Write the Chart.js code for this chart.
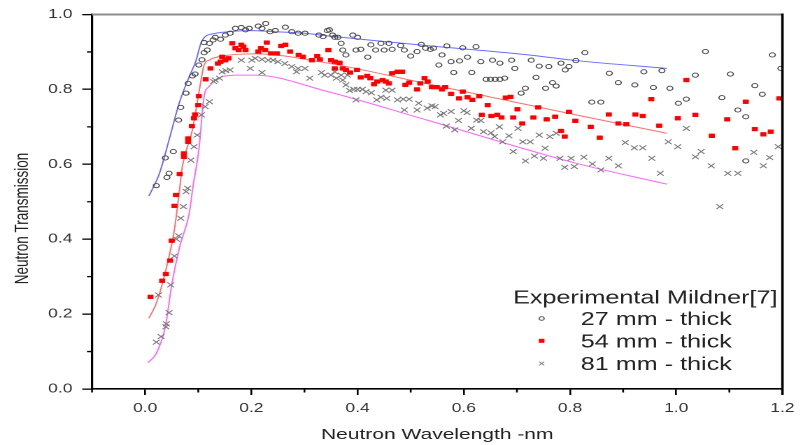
<!DOCTYPE html>
<html>
<head>
<meta charset="utf-8">
<title>Neutron Transmission</title>
<script src="https://cdn.jsdelivr.net/npm/chart.js@4.4.1/dist/chart.umd.min.js"></script>
<style>
  html, body { margin: 0; padding: 0; background: #fff; overflow: hidden; }
  /* the figure is laid out on a 574px-wide canvas and widened to 803px */
  #wrap { width: 574px; height: 445px; transform: scaleX(1.39895); transform-origin: 0 0; }
</style>
</head>
<body>
<div id="wrap"><canvas id="chart" width="574" height="445"></canvas></div>
<script>
// ---- measured transmission, 27 mm sample ----
const wl27 = [0.021,0.038,0.041,0.045,0.053,0.063,0.067,0.077,0.081,0.089,0.094,0.101,0.107,0.111,0.111,0.117,0.121,0.128,0.132,0.142,
  0.151,0.160,0.170,0.181,0.189,0.196,0.213,0.220,0.227,0.235,0.245,0.264,0.276,0.288,0.301,0.327,0.335,0.343,0.347,0.353,
  0.357,0.363,0.369,0.372,0.378,0.391,0.397,0.400,0.406,0.419,0.425,0.434,0.444,0.450,0.459,0.465,0.481,0.488,0.500,0.512,
  0.520,0.528,0.537,0.543,0.553,0.559,0.568,0.576,0.581,0.592,0.598,0.607,0.615,0.623,0.632,0.642,0.650,0.654,0.659,0.668,
  0.668,0.677,0.690,0.696,0.708,0.716,0.727,0.736,0.742,0.754,0.760,0.767,0.774,0.783,0.791,0.798,0.811,0.828,0.841,0.858,
  0.874,0.891,0.922,0.939,0.957,0.973,0.988,1.004,1.019,1.036,1.055,1.086,1.102,1.116,1.131,1.131,1.148,1.162,1.181,1.197];
const tr27 = [0.543,0.617,0.565,0.576,0.634,0.718,0.752,0.790,0.816,0.836,0.841,0.865,0.879,0.898,0.925,0.905,0.923,0.932,0.939,0.934,
  0.945,0.950,0.963,0.965,0.959,0.963,0.969,0.963,0.976,0.954,0.957,0.966,0.954,0.950,0.950,0.945,0.941,0.957,0.959,0.945,
  0.939,0.939,0.923,0.905,0.892,0.945,0.905,0.939,0.907,0.886,0.919,0.905,0.923,0.905,0.923,0.907,0.917,0.905,0.889,0.901,
  0.920,0.910,0.907,0.910,0.865,0.892,0.916,0.874,0.845,0.876,0.911,0.886,0.845,0.914,0.874,0.827,0.827,0.878,0.827,0.827,
  0.870,0.830,0.878,0.856,0.790,0.803,0.878,0.832,0.862,0.803,0.861,0.818,0.809,0.870,0.852,0.861,0.877,0.898,0.766,0.766,
  0.843,0.818,0.812,0.847,0.805,0.850,0.803,0.763,0.774,0.838,0.901,0.778,0.841,0.745,0.727,0.609,0.810,0.787,0.892,0.856];

// ---- measured transmission, 54 mm sample ----
const wl54 = [0.010,0.032,0.039,0.047,0.050,0.055,0.058,0.065,0.073,0.073,0.081,0.081,0.088,0.092,0.094,0.100,0.101,0.114,0.123,0.137,
  0.142,0.145,0.151,0.157,0.164,0.170,0.176,0.181,0.185,0.189,0.213,0.218,0.226,0.229,0.237,0.248,0.256,0.264,0.273,0.289,
  0.297,0.314,0.324,0.329,0.345,0.350,0.357,0.357,0.366,0.372,0.378,0.386,0.399,0.406,0.418,0.424,0.431,0.437,0.447,0.453,
  0.459,0.465,0.475,0.484,0.490,0.497,0.512,0.518,0.526,0.532,0.540,0.549,0.559,0.565,0.576,0.591,0.598,0.607,0.616,0.629,
  0.634,0.645,0.652,0.663,0.671,0.679,0.688,0.693,0.701,0.710,0.731,0.740,0.756,0.772,0.783,0.790,0.798,0.810,0.839,0.856,
  0.873,0.891,0.906,0.923,0.937,0.953,0.968,1.003,1.019,1.036,1.067,1.096,1.111,1.131,1.148,1.164,1.178,1.194];
const tr54 = [0.246,0.289,0.307,0.343,0.396,0.489,0.518,0.574,0.620,0.629,0.660,0.669,0.702,0.723,0.733,0.758,0.782,0.827,0.856,0.869,
  0.874,0.887,0.878,0.883,0.923,0.910,0.905,0.919,0.914,0.905,0.901,0.910,0.905,0.925,0.896,0.896,0.916,0.919,0.901,0.892,
  0.887,0.878,0.889,0.880,0.905,0.878,0.874,0.856,0.871,0.856,0.852,0.845,0.852,0.832,0.836,0.830,0.814,0.821,0.825,0.821,
  0.816,0.843,0.847,0.847,0.812,0.818,0.800,0.816,0.830,0.821,0.806,0.806,0.800,0.806,0.788,0.776,0.794,0.779,0.772,0.782,
  0.732,0.758,0.729,0.732,0.725,0.778,0.780,0.725,0.747,0.709,0.725,0.752,0.720,0.727,0.689,0.674,0.740,0.716,0.700,0.671,
  0.733,0.709,0.707,0.733,0.729,0.774,0.703,0.723,0.825,0.732,0.676,0.720,0.643,0.767,0.694,0.680,0.687,0.776];

// ---- measured transmission, 81 mm sample ----
const wl81 = [0.021,0.025,0.030,0.039,0.040,0.045,0.048,0.055,0.059,0.063,0.067,0.072,0.077,0.080,0.086,0.092,0.098,0.106,0.113,0.121,
  0.129,0.132,0.140,0.145,0.152,0.160,0.181,0.198,0.201,0.207,0.220,0.220,0.232,0.241,0.250,0.263,0.276,0.285,0.288,0.301,
  0.310,0.332,0.338,0.350,0.357,0.360,0.369,0.372,0.378,0.381,0.385,0.393,0.397,0.400,0.409,0.416,0.426,0.436,0.444,0.453,
  0.455,0.465,0.475,0.486,0.488,0.497,0.512,0.515,0.531,0.540,0.546,0.556,0.562,0.567,0.576,0.583,0.590,0.600,0.606,0.614,
  0.624,0.632,0.637,0.651,0.658,0.667,0.673,0.685,0.693,0.702,0.711,0.716,0.725,0.733,0.742,0.750,0.753,0.762,0.774,0.781,
  0.790,0.802,0.808,0.826,0.842,0.858,0.873,0.891,0.904,0.921,0.937,0.954,0.970,0.985,1.003,1.019,1.036,1.047,1.066,1.082,
  1.097,1.116,1.146,1.164,1.176,1.192];
const tr81 = [0.125,0.251,0.140,0.166,0.174,0.204,0.278,0.355,0.400,0.409,0.456,0.487,0.527,0.536,0.611,0.647,0.678,0.732,0.754,0.767,
  0.821,0.825,0.830,0.847,0.850,0.852,0.878,0.856,0.878,0.883,0.880,0.845,0.878,0.878,0.874,0.869,0.861,0.847,0.856,0.856,
  0.830,0.845,0.838,0.838,0.847,0.830,0.838,0.825,0.812,0.838,0.797,0.800,0.772,0.800,0.800,0.794,0.791,0.772,0.779,0.798,
  0.776,0.798,0.772,0.774,0.745,0.774,0.745,0.763,0.750,0.756,0.754,0.732,0.736,0.702,0.741,0.692,0.717,0.743,0.738,0.696,
  0.718,0.717,0.687,0.684,0.674,0.700,0.660,0.676,0.634,0.696,0.660,0.609,0.660,0.622,0.678,0.616,0.643,0.674,0.683,0.616,
  0.592,0.616,0.594,0.619,0.601,0.585,0.616,0.596,0.658,0.644,0.644,0.616,0.576,0.660,0.647,0.696,0.620,0.634,0.596,0.487,
  0.576,0.576,0.632,0.596,0.618,0.647];

// ---- calculated transmission curves ----
const calcWl27 = [0.007,0.027,0.045,0.064,0.083,0.095,0.105,0.113,0.126,0.157,0.195,0.245,0.301,0.344,0.531,0.717,0.811,0.982];
const calcTr27 = [0.515,0.576,0.665,0.763,0.834,0.874,0.923,0.941,0.948,0.954,0.957,0.954,0.950,0.943,0.917,0.893,0.877,0.856];
const calcWl54 = [0.007,0.021,0.039,0.055,0.064,0.070,0.089,0.101,0.111,0.120,0.145,0.207,0.344,0.531,0.811,0.982];
const calcTr54 = [0.189,0.229,0.318,0.425,0.523,0.594,0.692,0.790,0.865,0.878,0.889,0.895,0.870,0.815,0.732,0.683];
const calcWl81 = [0.005,0.021,0.038,0.050,0.065,0.083,0.090,0.101,0.111,0.120,0.145,0.176,0.207,0.344,0.531,0.811,0.982];
const calcTr81 = [0.070,0.095,0.166,0.278,0.380,0.469,0.540,0.638,0.781,0.807,0.834,0.838,0.838,0.794,0.718,0.603,0.547];

// ---- axis ticks ----
const xTickValues = [0.0, 0.2, 0.4, 0.6, 0.8, 1.0, 1.2];
const xMinorValues = [-0.1, 0.1, 0.3, 0.5, 0.7, 0.9, 1.1];
const yTickValues = [0.0, 0.2, 0.4, 0.6, 0.8, 1.0];
const yMinorValues = [0.1, 0.3, 0.5, 0.7, 0.9];

const legendTitle = 'Experimental Mildner[7]';
const seriesNames = ['27 mm - thick', '54 mm - thick', '81 mm - thick'];

const FONT = "'Liberation Sans', Arial, Helvetica, sans-serif";
const pts = (xs, ys) => xs.map((x, i) => ({ x: x, y: ys[i] }));

// frame: grey top edge and heavy right edge
const framePlugin = {
  id: 'frame',
  afterDraw(chart) {
    const { ctx, chartArea: a } = chart;
    ctx.save();
    ctx.strokeStyle = '#8c8c8c';
    ctx.lineWidth = 2;
    ctx.beginPath();
    ctx.moveTo(a.left, a.top);
    ctx.lineTo(a.right, a.top);
    ctx.stroke();
    ctx.strokeStyle = '#000';
    ctx.lineWidth = 1.8;
    ctx.beginPath();
    ctx.moveTo(a.right, a.top - 1);
    ctx.lineTo(a.right, a.bottom + 6);
    ctx.stroke();
    ctx.restore();
  }
};

// short minor tick marks between the labelled ones
const minorTickPlugin = {
  id: 'minorTicks',
  afterDraw(chart) {
    const { ctx, chartArea: a, scales } = chart;
    ctx.save();
    ctx.strokeStyle = '#000';
    ctx.lineWidth = 1.3;
    ctx.beginPath();
    xMinorValues.forEach(v => {
      const px = scales.x.getPixelForValue(v);
      ctx.moveTo(px, a.bottom);
      ctx.lineTo(px, a.bottom + 3.5);
    });
    yMinorValues.forEach(v => {
      const py = scales.y.getPixelForValue(v);
      ctx.moveTo(a.left, py);
      ctx.lineTo(a.left - 3.6, py);
    });
    ctx.stroke();
    ctx.restore();
  }
};

// vertical axis title
const yTitlePlugin = {
  id: 'yTitle',
  afterDraw(chart) {
    const { ctx } = chart;
    ctx.save();
    ctx.translate(16.4, 218.5);
    ctx.rotate(-Math.PI / 2);
    ctx.font = '13.5px ' + FONT;
    ctx.fillStyle = '#222';
    ctx.textAlign = 'center';
    ctx.textBaseline = 'middle';
    ctx.fillText('Neutron Transmission', 0, 0);
    ctx.restore();
  }
};

// legend block inside the plot, lower right
const legendPlugin = {
  id: 'legendBox',
  afterDraw(chart) {
    const { ctx } = chart;
    ctx.save();
    ctx.font = '18px ' + FONT;
    ctx.fillStyle = '#222';
    ctx.textAlign = 'left';
    ctx.textBaseline = 'alphabetic';
    ctx.fillText(legendTitle, 366.7, 303.3);
    const rows = [325, 347.3, 370];
    const marks = [
      { style: 'circle', radius: 1.8, stroke: '#555', fill: 'rgba(0,0,0,0)', width: 0.9 },
      { style: 'rect', radius: 2.5, stroke: '#ff0000', fill: '#ff0000', width: 0.5 },
      { style: 'crossRot', radius: 2.5, stroke: '#888', fill: '#888', width: 0.9 }
    ];
    seriesNames.forEach((name, i) => {
      const m = marks[i];
      ctx.strokeStyle = m.stroke;
      ctx.fillStyle = m.fill;
      ctx.lineWidth = m.width;
      Chart.helpers.drawPoint(ctx, { pointStyle: m.style, radius: m.radius, borderWidth: m.width, rotation: 0 }, 387.2, rows[i] - 6.5);
      ctx.fillStyle = '#222';
      ctx.fillText(name, 415.1, rows[i]);
    });
    ctx.restore();
  }
};

const tickFont = { family: FONT, size: 12.5 };

new Chart(document.getElementById('chart'), {
  type: 'scatter',
  data: {
    datasets: [
      { label: seriesNames[0], data: pts(wl27, tr27), pointStyle: 'circle', pointRadius: 2.1,
        borderColor: '#4a4a4a', backgroundColor: 'rgba(0,0,0,0)', borderWidth: 0.9 },
      { label: seriesNames[1], data: pts(wl54, tr54), pointStyle: 'rect', pointRadius: 2.7,
        borderColor: '#ff0000', backgroundColor: '#ff0000', borderWidth: 0.5 },
      { label: seriesNames[2], data: pts(wl81, tr81), pointStyle: 'crossRot', pointRadius: 3.4,
        borderColor: '#7a7a7a', backgroundColor: '#7a7a7a', borderWidth: 0.9 },
      { type: 'line', label: 'calc 27', data: pts(calcWl27, calcTr27), borderColor: '#6b6bff', borderWidth: 1,
        pointRadius: 0, cubicInterpolationMode: 'monotone', fill: false },
      { type: 'line', label: 'calc 54', data: pts(calcWl54, calcTr54), borderColor: '#ff6f6f', borderWidth: 1,
        pointRadius: 0, cubicInterpolationMode: 'monotone', fill: false },
      { type: 'line', label: 'calc 81', data: pts(calcWl81, calcTr81), borderColor: '#ff66ff', borderWidth: 1,
        pointRadius: 0, cubicInterpolationMode: 'monotone', fill: false }
    ]
  },
  options: {
    responsive: false,
    animation: false,
    devicePixelRatio: 2,
    layout: { padding: { left: 0, right: 10, top: 14.5, bottom: 0 } },
    plugins: { legend: { display: false }, tooltip: { enabled: false } },
    scales: {
      x: {
        type: 'linear', min: -0.1, max: 1.2,
        afterBuildTicks: s => { s.ticks = xTickValues.map(v => ({ value: v })); },
        afterFit: s => { s.height = 56; },
        grid: { display: true, drawOnChartArea: false, drawTicks: true, tickLength: 6, color: '#000', lineWidth: 1.3 },
        border: { display: true, color: '#000', width: 1.6 },
        ticks: { callback: v => Number(v).toFixed(1), font: tickFont, color: '#333', padding: 6, maxRotation: 0, autoSkip: false },
        title: { display: true, text: 'Neutron Wavelength -nm', font: { family: FONT, size: 15 }, color: '#222', padding: { top: 0, bottom: 1 } }
      },
      y: {
        type: 'linear', min: 0, max: 1,
        afterBuildTicks: s => { s.ticks = yTickValues.map(v => ({ value: v })); },
        afterFit: s => { s.width = 65.8; },
        grid: { display: true, drawOnChartArea: false, drawTicks: true, tickLength: 7, color: '#000', lineWidth: 1.3 },
        border: { display: true, color: '#000', width: 1.6 },
        ticks: { callback: v => Number(v).toFixed(1), font: tickFont, color: '#333', padding: 7, autoSkip: false },
        title: { display: false }
      }
    }
  },
  plugins: [framePlugin, minorTickPlugin, yTitlePlugin, legendPlugin]
});
</script>
</body>
</html>
